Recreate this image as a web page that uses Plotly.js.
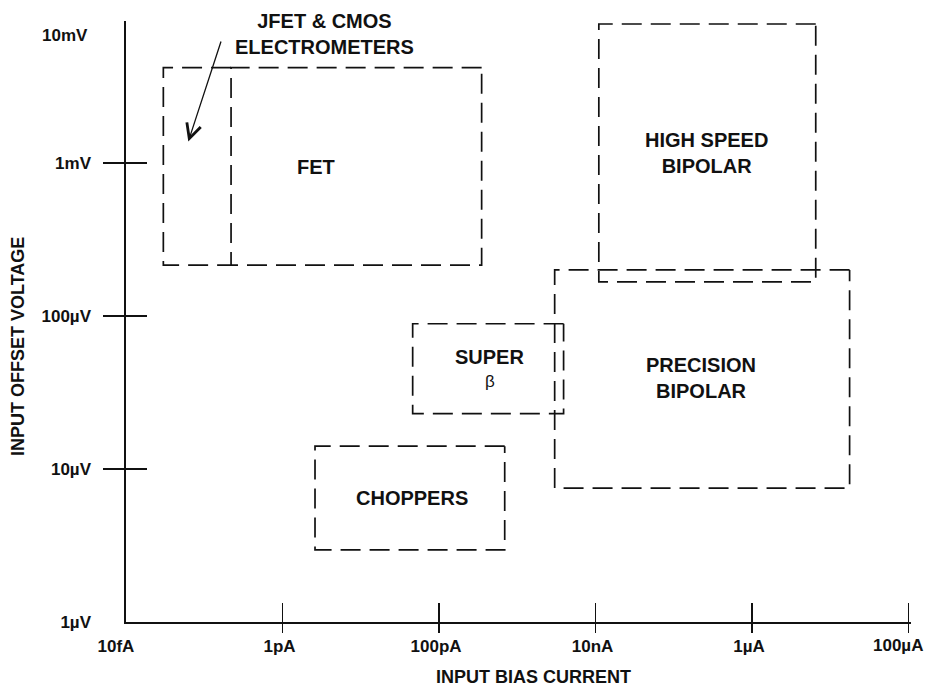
<!DOCTYPE html>
<html>
<head>
<meta charset="utf-8">
<script src="https://cdn.plot.ly/plotly-3.0.1.min.js"></script>
<style>html,body{margin:0;padding:0;background:#fff;}#chart{width:929px;height:687px;}</style>
</head>
<body>
<div id="chart"></div>
<script>
// ---- data ----
const xTickVals = [1e-14, 1e-12, 1e-10, 1e-8, 1e-6, 1e-4];
const xTickText = ['10fA', '1pA', '100pA', '10nA', '1\u00b5A', '100\u00b5A'];
const yTickVals = [1e-6, 1e-5, 1e-4, 1e-3];
const yTickText = ['1\u00b5V', '10\u00b5V', '100\u00b5V', '1mV'];
const yTopLabel = '10mV';
const xTitle = 'INPUT BIAS CURRENT';
const yTitle = 'INPUT OFFSET VOLTAGE';

// amplifier families: bias current range (A) and offset voltage range (V)
const families = ['JFET & CMOS ELECTROMETERS', 'FET', 'SUPER \u03b2', 'HIGH SPEED BIPOLAR', 'PRECISION BIPOLAR', 'CHOPPERS'];
const currentLo = [3.0e-14, 2.2e-13, 4.6e-11, 1.1e-8, 3.0e-9, 2.6e-12];
const currentHi = [2.2e-13, 3.5e-10, 3.9e-9, 6.5e-6, 1.76e-5, 6.9e-10];
const voltageLo = [2.15e-4, 2.15e-4, 2.3e-5, 1.67e-4, 7.5e-6, 2.96e-6];
const voltageHi = [4.2e-3, 4.2e-3, 8.9e-5, 8.1e-3, 2.0e-4, 1.41e-5];
// the electrometer box shares its right edge with the FET box
const sharesRightEdge = [true, false, false, false, false, false];

// label texts and their anchor points (data space)
const labelText = ['JFET & CMOS<br>ELECTROMETERS', 'FET', 'SUPER', '\u03b2', 'HIGH SPEED<br>BIPOLAR', 'PRECISION<br>BIPOLAR', 'CHOPPERS'];
const labelCurrent = [3.48e-12, 2.67e-12, 4.42e-10, 4.45e-10, 2.65e-7, 2.25e-7, 4.45e-11];
const labelVoltage = [6.92e-3, 9.4e-4, 5.42e-5, 3.72e-5, 1.16e-3, 3.92e-5, 6.43e-6];
const arrowTip = [6.25e-14, 1.38e-3];
const arrowTail = [1.66e-13, 6.37e-3];

// ---- drawing ----
const FONT = 'Liberation Sans, Arial, Helvetica, sans-serif';
const INK = '#111';
const L = Math.log10;
const NB = '\u00a0\u00a0\u00a0';
const nX = xTickVals.length;
// the first label sits a little left of the axis corner in the original
const xTickShown = xTickText.slice(0, nX - 1).map((t, i) => i === 0 ? t + NB : t);
const tickFont = {family: FONT, size: 17, color: INK, weight: 'bold'};

const traces = families.map((name, i) => {
  // path: top-right -> top-left -> bottom-left -> bottom-right (-> top-right)
  const xs = [currentHi[i], currentLo[i], currentLo[i], currentHi[i]];
  const ys = [voltageHi[i], voltageHi[i], voltageLo[i], voltageLo[i]];
  if (!sharesRightEdge[i]) { xs.push(currentHi[i]); ys.push(voltageHi[i]); }
  return {
    type: 'scatter', mode: 'lines', name: name, showlegend: false, hoverinfo: 'name',
    x: xs, y: ys,
    line: {color: INK, width: 1.7, dash: '20px,9px'}
  };
});
// empty traces so the tick-only overlay axes get drawn
traces.push({type: 'scatter', x: [], y: [], xaxis: 'x2', yaxis: 'y2', showlegend: false});
traces.push({type: 'scatter', x: [], y: [], xaxis: 'x3', yaxis: 'y3', showlegend: false});

const xRange = [-14, -3.97];
const yRange = [-6, -2.072];
const baseAx = {type: 'log', showgrid: false, zeroline: false, fixedrange: true};

const annotations = labelText.map((t, i) => ({
  x: L(labelCurrent[i]), y: L(labelVoltage[i]), xref: 'x', yref: 'y',
  text: t, showarrow: false, xanchor: 'center', yanchor: 'middle',
  font: {family: FONT, size: t === '\u03b2' ? 17 : 20, color: INK, weight: t === '\u03b2' ? 'normal' : 'bold'}
}));
annotations.push({
  x: L(arrowTip[0]), y: L(arrowTip[1]), ax: L(arrowTail[0]), ay: L(arrowTail[1]),
  xref: 'x', yref: 'y', axref: 'x', ayref: 'y', text: '', showarrow: true,
  arrowhead: 5, arrowsize: 2.2, arrowwidth: 1.3, arrowcolor: INK, standoff: 0, startstandoff: 0
});
// last x tick label, kept inside the page like the original
annotations.push({
  x: L(xTickVals[nX - 1]), xref: 'x', y: 0, yref: 'paper', text: xTickText[nX - 1], showarrow: false,
  xanchor: 'center', yanchor: 'middle', xshift: -11, yshift: -23.5, font: tickFont
});
annotations.push({
  x: -14, xref: 'x', y: 1, yref: 'paper', text: yTopLabel, showarrow: false,
  xanchor: 'right', yanchor: 'middle', xshift: -36, yshift: -14, font: tickFont
});
annotations.push({
  x: (533 - 126) / 785, xref: 'paper', y: 0, yref: 'paper', yshift: -55, text: xTitle, showarrow: false,
  xanchor: 'center', yanchor: 'middle', font: {family: FONT, size: 18, color: INK, weight: 'bold'}
});
annotations.push({
  x: 0, xref: 'paper', xshift: -108, y: (622 - 347) / 601, yref: 'paper', text: yTitle, showarrow: false,
  textangle: -90, xanchor: 'center', yanchor: 'middle', font: {family: FONT, size: 18, color: INK, weight: 'bold'}
});

const layout = {
  width: 929, height: 687,
  margin: {l: 126, r: 18, t: 21, b: 65},
  paper_bgcolor: '#fff', plot_bgcolor: '#fff',
  showlegend: false,
  xaxis: Object.assign({}, baseAx, {
    range: xRange, tickmode: 'array', tickvals: xTickVals.slice(0, nX - 1), ticktext: xTickShown,
    ticks: '', showline: true, linecolor: INK, linewidth: 1.6,
    ticklabelstandoff: 8, ticklabelshift: -3, ticklabeloverflow: 'allow',
    tickfont: tickFont
  }),
  xaxis2: Object.assign({}, baseAx, {
    range: xRange, overlaying: 'x', anchor: 'y2', side: 'bottom',
    tickmode: 'array', tickvals: xTickVals.slice(1), ticks: 'inside', ticklen: 19,
    tickwidth: 1.6, tickcolor: INK, showticklabels: false, showline: false
  }),
  xaxis3: Object.assign({}, baseAx, {
    range: xRange, overlaying: 'x', anchor: 'y3', side: 'bottom',
    tickmode: 'array', tickvals: xTickVals.slice(1), ticks: 'outside', ticklen: 10,
    tickwidth: 1.6, tickcolor: INK, showticklabels: false, showline: false
  }),
  yaxis: Object.assign({}, baseAx, {
    range: yRange, tickmode: 'array', tickvals: yTickVals, ticktext: yTickText,
    ticks: '', showline: true, linecolor: INK, linewidth: 1.6,
    ticklabelstandoff: 30, ticklabeloverflow: 'allow',
    tickfont: tickFont
  }),
  yaxis2: Object.assign({}, baseAx, {
    range: yRange, overlaying: 'y', anchor: 'x2', side: 'left',
    tickmode: 'array', tickvals: yTickVals.slice(1), ticks: 'inside', ticklen: 21,
    tickwidth: 1.6, tickcolor: INK, showticklabels: false, showline: false
  }),
  yaxis3: Object.assign({}, baseAx, {
    range: yRange, overlaying: 'y', anchor: 'x3', side: 'left',
    tickmode: 'array', tickvals: yTickVals.slice(1), ticks: 'outside', ticklen: 22,
    tickwidth: 1.6, tickcolor: INK, showticklabels: false, showline: false
  }),
  annotations: annotations
};

Plotly.newPlot('chart', traces, layout, {displayModeBar: false, staticPlot: true});
</script>
</body>
</html>
